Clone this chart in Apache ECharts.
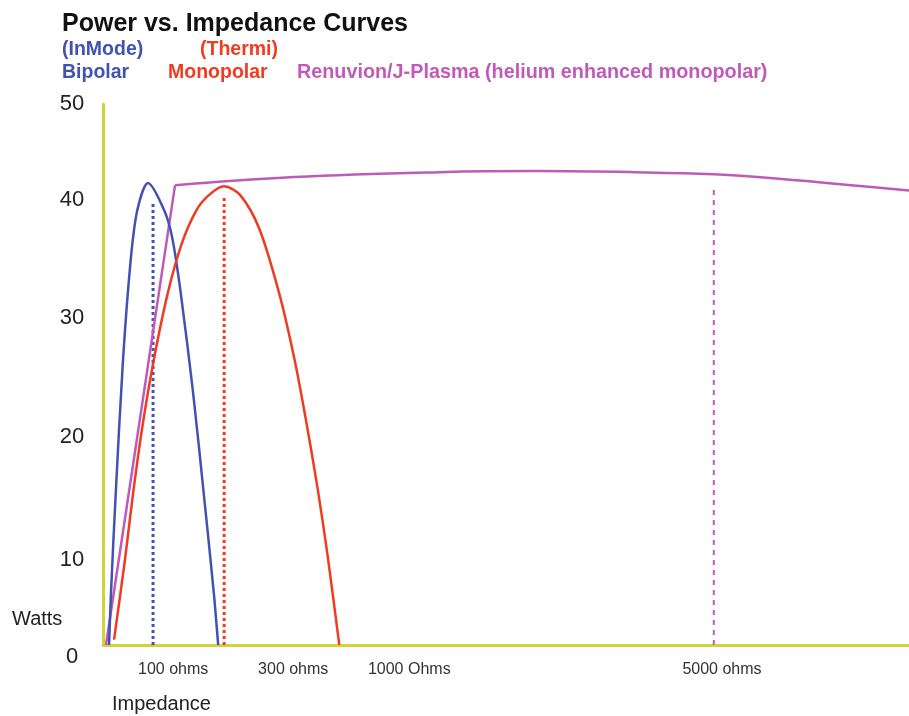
<!DOCTYPE html>
<html><head><meta charset="utf-8">
<script src="https://cdn.jsdelivr.net/npm/echarts@6/dist/echarts.min.js"></script>
<style>html,body{margin:0;padding:0;background:#fff}#c{width:909px;height:716px}</style>
</head><body><div id="c"></div><script>
// Y axis tick labels (watts)
const yTickLabels = ['0', '10', '20', '30', '40', '50'];
// X axis: relative impedance scale position (0-100), labels as drawn
const xTickPositions = [8.7, 23.6, 38.0, 76.8];
const xTickLabels = ['100 ohms', '300 ohms', '1000 Ohms', '5000 ohms'];

// Bipolar (InMode) curve: [impedance position, watts]
const bipolar = [[0.75,0],[0.99,4.8],[1.58,14.0],[2.48,26.3],[3.44,35.6],[4.26,40.2],[5.59,42.7],[7.58,40.2],[8.6,37.6],[9.65,32.5],[11.18,23.3],[12.5,14.0],[13.75,4.8],[14.29,0]];
// Monopolar (Thermi) curve
const monopolar = [[1.37,0.5],[2.73,7.9],[3.73,14.0],[4.89,20.2],[6.29,26.3],[8.03,32.5],[9.77,37.1],[11.6,40.2],[13.17,41.6],[15.0,42.4],[17.0,41.6],[19.38,38.5],[21.86,32.5],[23.73,26.5],[25.18,20.8],[26.62,14.5],[27.86,8.3],[29.32,0]];
// Renuvion / J-Plasma curve
const renuvionRise = [[0.37,0],[8.94,42.5]];
const renuvionPlateau = [[8.94,42.5],[23.73,43.25],[41.74,43.7],[53.79,43.8],[65.84,43.7],[75.78,43.5],[83.85,43.1],[100,42.0]];
// Reference (peak) markers
const bipolarMarker = [[6.21,0],[6.21,41.0]];
const monopolarMarker = [[15.03,0],[15.03,41.4]];
const renuvionMarker = [[75.78,0],[75.78,42.5]];

const BLUE = '#4152b3', RED = '#f03b22', PURPLE = '#c05ab9', AXIS = '#d2d23c';
const FONT = 'Liberation Sans, Arial, sans-serif';

const chart = echarts.init(document.getElementById('c'), null, {renderer: 'canvas'});
const t = (text, left, top, size, color, bold) => ({
  text, left, top, padding: 0,
  textStyle: {fontFamily: FONT, fontSize: size, fontWeight: bold ? 'bold' : 'normal', color}
});
const shifts = {0: [24,0,0,0], 10: [46,0,0,0], 20: [16,0,0,0], 30: [0,0,4,0], 40: [0,0,24,0], 50: [0,0,0,0]};
const rich = {};
Object.keys(shifts).forEach(k => { rich['s' + k] = {padding: shifts[k], fontFamily: FONT, fontSize: 22, color: '#222'}; });

chart.setOption({
  backgroundColor: '#fff',
  animation: false,
  title: [
    t('Power vs. Impedance Curves', 62, 12, 25, '#111', true),
    t('(InMode)', 62, 40, 19.5, BLUE, true),
    t('(Thermi)', 200, 40, 19.5, RED, true),
    t('Bipolar', 62, 63, 19.5, BLUE, true),
    t('Monopolar', 168, 63, 19.5, RED, true),
    t('Renuvion/J-Plasma (helium enhanced monopolar)', 297, 63, 19.8, PURPLE, true),
    t('Watts', 12, 609, 20, '#222', false),
    t('Impedance', 112, 694, 20, '#222', false)
  ],
  grid: {left: 103, right: 0, top: 104, bottom: 71, containLabel: false},
  xAxis: {
    type: 'value', min: 0, max: 100,
    axisLine: {show: true, lineStyle: {color: AXIS, width: 3}},
    axisTick: {show: false},
    splitLine: {show: false},
    axisLabel: {
      customValues: xTickPositions,
      margin: 17,
      fontFamily: FONT, fontSize: 16, color: '#333',
      formatter: v => {
        const i = xTickPositions.findIndex(p => Math.abs(p - v) < 1e-6);
        return i >= 0 ? xTickLabels[i] : '';
      }
    }
  },
  yAxis: {
    type: 'value', min: 0, max: 50, interval: 10,
    axisLine: {show: true, lineStyle: {color: AXIS, width: 3}},
    axisTick: {show: false},
    splitLine: {show: false},
    axisLabel: {
      margin: 31, align: 'center',
      formatter: v => '{s' + v + '|' + yTickLabels[Math.round(v / 10)] + '}',
      rich
    }
  },
  series: [
    {type: 'line', data: renuvionRise, showSymbol: false, lineStyle: {color: PURPLE, width: 2.5}, z: 3},
    {type: 'line', data: renuvionPlateau, showSymbol: false, smooth: 0.4, lineStyle: {color: PURPLE, width: 2.5}, z: 3},
    {type: 'line', data: bipolar, showSymbol: false, smooth: 0.3, lineStyle: {color: BLUE, width: 2.5}, z: 4},
    {type: 'line', data: monopolar, showSymbol: false, smooth: 0.3, lineStyle: {color: RED, width: 2.5}, z: 5},
    {type: 'line', data: bipolarMarker, showSymbol: false, lineStyle: {color: BLUE, width: 3, type: [3, 3]}, z: 2},
    {type: 'line', data: monopolarMarker, showSymbol: false, lineStyle: {color: RED, width: 3, type: [3, 3]}, z: 2},
    {type: 'line', data: renuvionMarker, showSymbol: false, lineStyle: {color: PURPLE, width: 2, type: [5, 5]}, z: 2}
  ]
});
</script></body></html>
